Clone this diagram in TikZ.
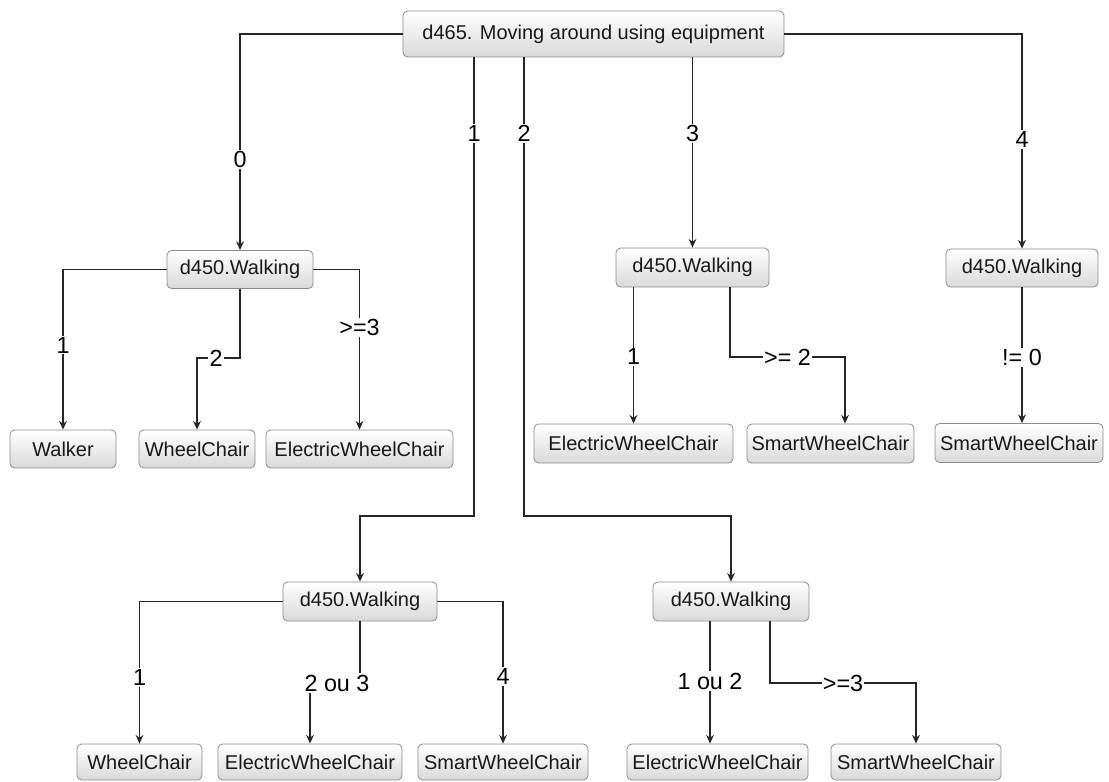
\documentclass[tikz,border=0pt]{standalone}
\usepackage{fontspec}
\setmainfont{Liberation Sans}
\usetikzlibrary{arrows.meta,calc}
\begin{document}
\begin{tikzpicture}[x=0.75pt,y=-0.75pt,
  box/.style={draw=black!45, rounded corners=3.5pt, top color=white, bottom color=black!15,
    line width=0.6pt, font=\fontsize{15}{18}\selectfont, text=black!90, inner sep=0pt},
  bw/.style={minimum width=#1*0.75pt},
  bh/.style={minimum height=#1*0.75pt},
  link/.style={draw=black!85, line width=0.85pt, -{Stealth[length=6.5pt,width=5.8pt]}},
  lbl/.style={fill=white, inner sep=1pt, font=\fontsize{17.5}{20}\selectfont, text=black}]
\useasboundingbox (0,0) rectangle (1109,781);

% decision nodes
\node[box,bw=381,bh=46] (root) at (593.5,34) {d465. Moving around using equipment};
\node[box,bw=146,bh=38] (wA) at (240,269.5) {d450.Walking};
\node[box,bw=153,bh=39] (wC) at (692.5,267.5) {d450.Walking};
\node[box,bw=152,bh=38] (wE) at (1022,268) {d450.Walking};
\node[box,bw=154,bh=39] (wF) at (360,601.5) {d450.Walking};
\node[box,bw=156,bh=39] (wG) at (731,601.5) {d450.Walking};

% outcomes
\node[box,bw=106,bh=38] (a1) at (63,449) {Walker};
\node[box,bw=116,bh=38] (a2) at (197,449) {WheelChair};
\node[box,bw=187,bh=38] (a3) at (359.5,449) {ElectricWheelChair};
\node[box,bw=199,bh=39] (c1) at (633.5,443.5) {ElectricWheelChair};
\node[box,bw=167,bh=39] (c2) at (830.5,443.5) {SmartWheelChair};
\node[box,bw=168,bh=39] (e1) at (1019,443) {SmartWheelChair};
\node[box,bw=125,bh=36] (f1) at (139.5,762) {WheelChair};
\node[box,bw=184,bh=36] (f2) at (310,762) {ElectricWheelChair};
\node[box,bw=170,bh=36] (f3) at (503,762) {SmartWheelChair};
\node[box,bw=181,bh=36] (g1) at (717.5,762) {ElectricWheelChair};
\node[box,bw=170,bh=36] (g2) at (916,762) {SmartWheelChair};

% bend points
\coordinate (k1) at (474,516);
\coordinate (k2) at (524,516);
\coordinate (ka) at (216,358);
\coordinate (kc1) at (730,357);
\coordinate (kc2) at (845,357);
\coordinate (kf) at (337,683);
\coordinate (kg1) at (710,681);
\coordinate (kg2) at (770,683);

% root branches
\draw[link] (root.west) -| node[lbl,pos=0.79]{0} (wA);
\draw[link] (root.east) -| node[lbl,pos=0.746]{4} (wE);
\draw[link] (wC |- root.south) -- node[lbl,pos=0.4]{3} (wC);
\draw[link] (k1 |- root.south) -- node[lbl,pos=0.166]{1} (k1) -| (wF);
\draw[link] (k2 |- root.south) -- node[lbl,pos=0.166]{2} (k2) -| (wG);

% branch 0
\draw[link] (wA.west) -| node[lbl,pos=0.736]{1} (a1);
\draw[link] (wA.south) |- (ka) node[lbl]{2} -| (a2);
\draw[link] (wA.east) -| node[lbl,pos=0.68]{>=3} (a3);

% branch 3
\draw[link] (c1 |- wC.south) -- node[lbl,pos=0.51]{1} (c1);
\draw[link] (kc1 |- wC.south) -- (kc1) -- node[lbl]{>= 2} (kc2) -- (kc2 |- c2.north);

% branch 4
\draw[link] (wE.south) -- node[lbl,pos=0.515]{!= 0} (wE.south |- e1.north);

% branch 1
\draw[link] (wF.west) -| node[lbl,pos=0.768]{1} (f1);
\draw[link] (wF.south) |- (kf) node[lbl]{2 ou 3} -| (f2);
\draw[link] (wF.east) -| node[lbl,pos=0.765]{4} (f3);

% branch 2
\draw[link] (kg1 |- wG.south) -- (kg1) node[lbl]{1 ou 2} -- (kg1 |- g1.north);
\draw[link] (kg2 |- wG.south) -- (kg2) -| node[lbl,pos=0.25]{>=3} (g2);
\end{tikzpicture}
\end{document}
